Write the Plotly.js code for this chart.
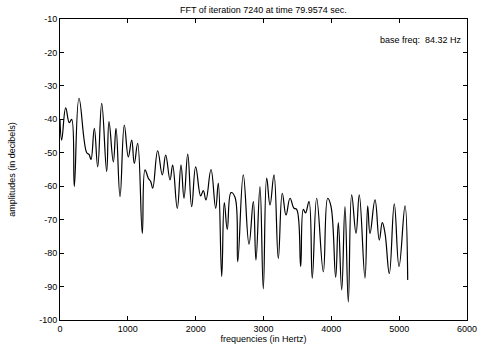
<!DOCTYPE html>
<html>
<head>
<meta charset="utf-8">
<script src="https://cdn.plot.ly/plotly-3.0.1.min.js"></script>
<style>html,body{margin:0;padding:0;background:#fff;}#chart{width:478px;height:348px;}</style>
</head>
<body>
<div id="chart"></div>
<script>
// frequencies (Hz) and amplitudes (dB)
const freqs = [0, 25, 84, 137, 172, 211, 280, 394, 428, 457, 506, 556, 615, 688, 722, 786, 826, 885, 948, 1007,
  1057, 1095, 1145, 1213, 1253, 1302, 1337, 1367, 1440, 1508, 1558, 1622, 1661, 1729, 1784, 1828, 1883, 1941, 2000,
  2074, 2113, 2152, 2226, 2295, 2334, 2384, 2422, 2466, 2521, 2580, 2620, 2702, 2786, 2850, 2889, 2948, 2997, 3047,
  3096, 3155, 3218, 3277, 3332, 3391, 3450, 3489, 3548, 3587, 3619, 3671, 3719, 3784, 3882, 3946, 3995, 4064, 4103,
  4153, 4201, 4250, 4300, 4364, 4412, 4496, 4536, 4570, 4644, 4707, 4751, 4791, 4855, 4928, 4998, 5086, 5126];
const amps = [-40.2, -46.2, -36.6, -41, -40, -60.1, -33.7, -50, -50.5, -52, -42.7, -54.2, -35.2, -55.6, -40.7, -52.7, -42.7, -63.1, -41.7, -51.2,
  -46.2, -53.2, -47.2, -74.1, -55.1, -57.6, -58.6, -60.6, -49.4, -56.6, -50.7, -58.1, -53.7, -66.6, -53.7, -63.6, -50.4, -66.1, -54.2,
  -62.9, -61.3, -64.1, -55, -66.6, -59.1, -87, -64.9, -72.9, -61.9, -63.3, -82.6, -56.6, -77.3, -64.6, -82.1, -60.1, -90.7, -57.6,
  -65.6, -56.6, -81.6, -62.1, -68.6, -63.6, -66.6, -66.9, -84, -66.9, -68, -64.6, -87.5, -63.6, -85.6, -63.6, -66, -87.2, -70.9,
  -91, -66.1, -94.6, -62.6, -74.1, -62.6, -87.5, -65.9, -74.1, -64.1, -76.1, -70.9, -74, -86.1, -65.3, -84, -65.9, -88];
const xTicks = [0, 1000, 2000, 3000, 4000, 5000, 6000];
const yTicks = [-100, -90, -80, -70, -60, -50, -40, -30, -20, -10];
const titleText = "FFT of iteration 7240 at time 79.9574 sec.";
const baseFreqText = "base freq:  84.32 Hz";

const font = {family: "Liberation Sans, Arial, sans-serif", size: 9, color: "#000"};
const axisCommon = {
  showgrid: false, zeroline: false, showline: true, linecolor: "#000", linewidth: 1,
  ticks: "inside", ticklen: 4, tickcolor: "#000", tickwidth: 1, mirror: "allticks",
  tickfont: font
};
const data = [{
  x: freqs, y: amps, type: "scatter", mode: "lines",
  line: {color: "#000", width: 1.2, shape: "spline", smoothing: 1.2},
  hoverinfo: "none"
}];
const layout = {
  width: 478, height: 348,
  margin: {l: 60, r: 11, t: 19, b: 28},
  paper_bgcolor: "#fff", plot_bgcolor: "#fff",
  font: font, showlegend: false,
  title: {text: titleText, font: font, x: 0.551, xanchor: "center", y: 0.972, yanchor: "middle"},
  xaxis: Object.assign({}, axisCommon, {
    range: [0, 6000], tickvals: xTicks, ticktext: xTicks.map(String),
    title: {text: "frequencies (in Hertz)", font: font, standoff: 2}
  }),
  yaxis: Object.assign({}, axisCommon, {
    range: [-100, -10], tickvals: yTicks, ticktext: yTicks.map(String),
    title: {text: "amplitudes (in decibels)", font: font, standoff: 22}
  }),
  annotations: [{
    text: baseFreqText, xref: "x", yref: "y", x: 4690, y: -16.3,
    xanchor: "left", yanchor: "middle", showarrow: false, font: font
  }]
};
Plotly.newPlot("chart", data, layout, {staticPlot: true, displayModeBar: false});
</script>
</body>
</html>
